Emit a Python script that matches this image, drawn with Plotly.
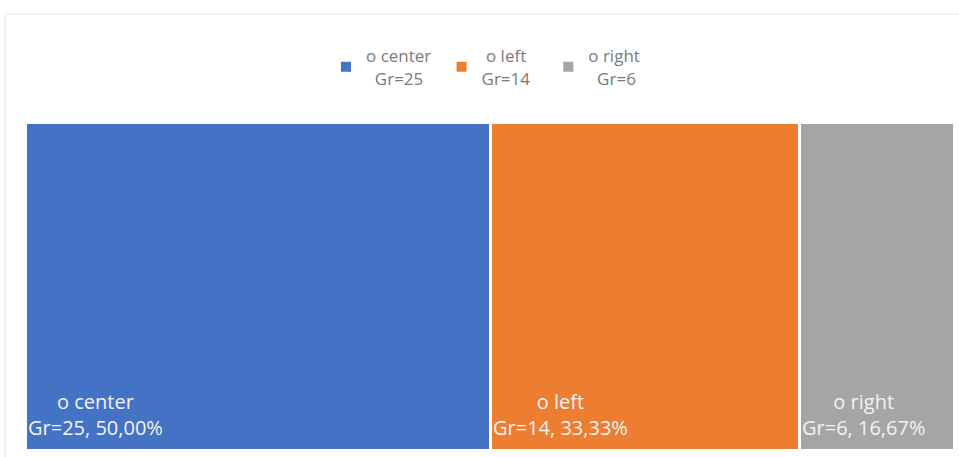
import plotly.graph_objects as go

categories = ["o center", "o left", "o right"]
groups = ["Gr=25", "Gr=14", "Gr=6"]
shares = [50.00, 33.33, 16.67]
colors = ["#4472C4", "#ED7D31", "#A5A5A5"]

font_family = "Open Sans, Liberation Sans, sans-serif"
NB = "\u00a0"
# leading non-breaking spaces that centre the two legend lines on each other
legend_pad = [(0, 2), (1, 0), (0, 2)]

fig = go.Figure()
base = 0.0
for cat, grp, val, col, (pa, pb) in zip(categories, groups, shares, colors, legend_pad):
    fig.add_trace(go.Bar(
        orientation="h",
        y=[0], x=[val], base=[base],
        name=f"{NB * pa}{cat}<br>{NB * pb}{grp}" + NB * 3,
        marker=dict(color=col, line=dict(color="white", width=3)),
        width=1,
        hoverinfo="skip",
    ))
    pct = f"{val:.2f}".replace(".", ",")
    fig.add_annotation(
        x=base, y=-0.5, xref="x", yref="y",
        xanchor="left", yanchor="bottom", xshift=0, yshift=8,
        text=f"{cat}<br>{grp}, {pct}%", showarrow=False, align="center",
        font=dict(family=font_family, size=20, color="#F2F2F2"),
    )
    base += val

# light frame around the chart area
fig.add_shape(type="rect", xref="paper", yref="paper",
              x0=-0.0226, x1=1.05, y0=-0.05, y1=1.332,
              line=dict(color="#E3E3E3", width=1), fillcolor="rgba(0,0,0,0)", layer="below")

fig.update_layout(
    width=959, height=457,
    margin=dict(l=26, r=4, t=123, b=6),
    paper_bgcolor="white", plot_bgcolor="white",
    barmode="overlay", bargap=0,
    showlegend=True,
    legend=dict(orientation="h", x=0.5, xanchor="center", y=1.17, yanchor="middle",
                font=dict(family=font_family, size=17, color="#7A7A7A"),
                itemsizing="constant", traceorder="normal"),
    xaxis=dict(range=[0, 100], visible=False, fixedrange=True),
    yaxis=dict(range=[-0.5, 0.5], visible=False, fixedrange=True),
)

fig.write_html("out.html")
